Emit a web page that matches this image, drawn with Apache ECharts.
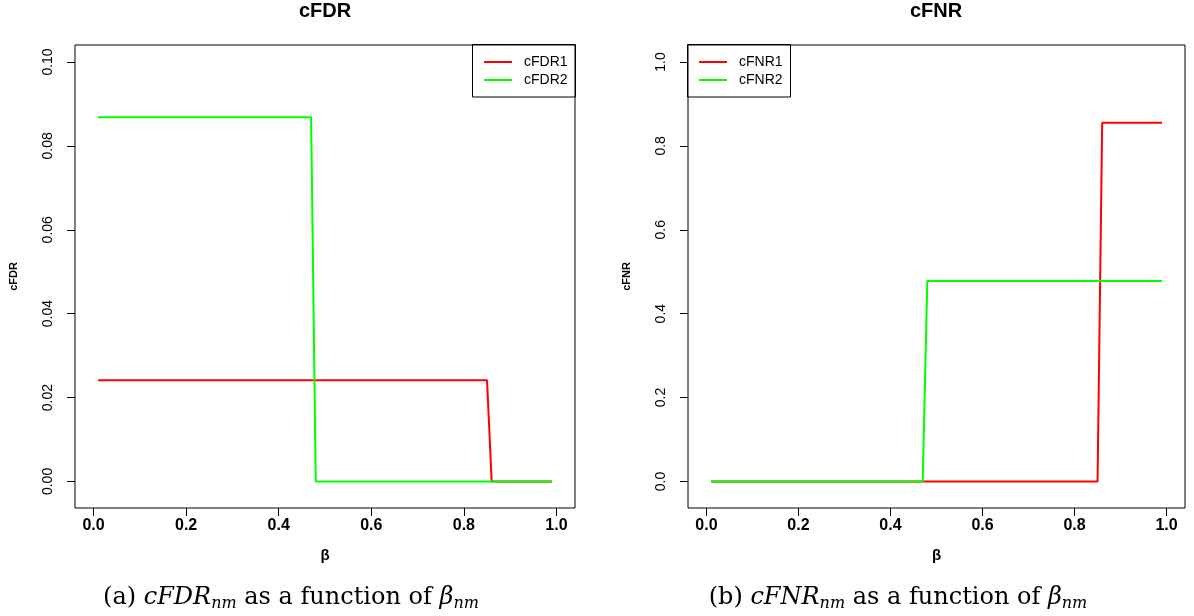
<!DOCTYPE html>
<html>
<head>
<meta charset="utf-8">
<script src="https://cdn.jsdelivr.net/npm/echarts@6/dist/echarts.min.js"></script>
<style>html,body{margin:0;padding:0;background:#fff}#c{width:1194px;height:616px}</style>
</head>
<body>
<div id="c"></div>
<script>
// ---- data ----
const xFDR1 = [0.01, 0.85, 0.86, 0.99];
const yFDR1 = [0.0241, 0.0241, 0, 0];
const xFDR2 = [0.01, 0.47, 0.48, 0.99];
const yFDR2 = [0.0868, 0.0868, 0, 0];
const xFNR1 = [0.01, 0.85, 0.86, 0.99];
const yFNR1 = [0, 0, 0.855, 0.855];
const xFNR2 = [0.01, 0.47, 0.48, 0.99];
const yFNR2 = [0, 0, 0.478, 0.478];
const xTicks = [0, 0.2, 0.4, 0.6, 0.8, 1.0];
const xTickLabels = ['0.0', '0.2', '0.4', '0.6', '0.8', '1.0'];
const yTicksFDR = [0, 0.02, 0.04, 0.06, 0.08, 0.10];
const yTickLabelsFDR = ['0.00', '0.02', '0.04', '0.06', '0.08', '0.10'];
const yTicksFNR = [0, 0.2, 0.4, 0.6, 0.8, 1.0];
const yTickLabelsFNR = ['0.0', '0.2', '0.4', '0.6', '0.8', '1.0'];
const seriesNames = ['cFDR1', 'cFDR2', 'cFNR1', 'cFNR2'];

const SANS = "'Liberation Sans', Arial, Helvetica, sans-serif";
const SERIF = "'DejaVu Serif', serif";
const RED = '#FF0000', GREEN = '#00FF00';

function pairs(xs, ys) { return xs.map((x, i) => [x, ys[i]]); }
function labelFor(ticks, labels) {
  return v => { const i = ticks.findIndex(t => Math.abs(t - v) < 1e-9); return i >= 0 ? labels[i] : ''; };
}

function xAxisDef(gi) {
  return {
    type: 'value', gridIndex: gi, min: -0.04, max: 1.04,
    name: 'β', nameLocation: 'middle', nameGap: 40,
    nameTextStyle: { fontFamily: SANS, fontWeight: 'bold', fontSize: 15, color: '#000' },
    axisLine: { show: false, onZero: false },
    splitLine: { show: false },
    axisTick: { show: true, length: 8, customValues: xTicks, lineStyle: { color: '#000', width: 1 } },
    axisLabel: { customValues: xTicks, formatter: labelFor(xTicks, xTickLabels), margin: 10,
      fontFamily: SANS, fontWeight: 'bold', fontSize: 16, color: '#000' }
  };
}
function yAxisDef(gi, name, min, max, ticks, labels) {
  return {
    type: 'value', gridIndex: gi, min: min, max: max,
    name: name, nameLocation: 'middle', nameGap: 56, nameRotate: 90,
    nameTextStyle: { fontFamily: SANS, fontWeight: 'bold', fontSize: 11, color: '#000' },
    axisLine: { show: false, onZero: false },
    splitLine: { show: false },
    axisTick: { show: true, length: 8, customValues: ticks, lineStyle: { color: '#000', width: 1 } },
    axisLabel: { customValues: ticks, formatter: labelFor(ticks, labels), rotate: 90, margin: 20,
      fontFamily: SANS, fontSize: 14, color: '#000' }
  };
}
function lineSeries(name, xi, data, color) {
  return {
    type: 'line', name: name, xAxisIndex: xi, yAxisIndex: xi, data: data,
    showSymbol: false, symbol: 'none', animation: false,
    lineStyle: { color: color, width: 2 }, itemStyle: { color: color }
  };
}
function legendDef(names, left) {
  return {
    data: names, orient: 'vertical', left: left, top: 55, padding: 0,
    icon: 'rect', itemWidth: 28, itemHeight: 2, itemGap: 4, selectedMode: false,
    textStyle: { fontFamily: SANS, fontSize: 14, color: '#000', padding: [0, 0, 0, 7] }
  };
}
function caption(x, letter, word) {
  return {
    type: 'text', z: 10,
    style: {
      x: x, y: 598, align: 'center', verticalAlign: 'middle',
      text: '(' + letter + ') {i|' + word + '}{s|nm} as a function of {i|β}{s|nm}',
      fontFamily: SERIF, fontSize: 24, lineHeight: 28, fill: '#000',
      rich: {
        i: { fontFamily: SERIF, fontStyle: 'italic', fontSize: 24, lineHeight: 28, fill: '#000' },
        s: { fontFamily: SERIF, fontStyle: 'italic', fontSize: 16, lineHeight: 12, verticalAlign: 'bottom', fill: '#000' }
      }
    }
  };
}
function plotTitle(x, text) {
  return {
    type: 'text', z: 10,
    style: { x: x, y: 11, align: 'center', verticalAlign: 'middle', text: text,
      fontFamily: SANS, fontWeight: 'bold', fontSize: 20, fill: '#000' }
  };
}
function legendBox(x) {
  return { type: 'rect', z: 1, shape: { x: x, y: 44.5, width: 103, height: 52.5 },
    style: { fill: 'none', stroke: '#000', lineWidth: 1 } };
}

const chart = echarts.init(document.getElementById('c'));
chart.setOption({
  backgroundColor: '#fff',
  animation: false,
  grid: [
    { left: 75, top: 45, width: 500, height: 463, show: true, borderColor: '#000', borderWidth: 1, backgroundColor: 'transparent' },
    { left: 688, top: 45, width: 497, height: 463, show: true, borderColor: '#000', borderWidth: 1, backgroundColor: 'transparent' }
  ],
  xAxis: [xAxisDef(0), xAxisDef(1)],
  yAxis: [
    yAxisDef(0, 'cFDR', -0.00633, 0.10405, yTicksFDR, yTickLabelsFDR),
    yAxisDef(1, 'cFNR', -0.0633, 1.0405, yTicksFNR, yTickLabelsFNR)
  ],
  legend: [legendDef([seriesNames[0], seriesNames[1]], 484), legendDef([seriesNames[2], seriesNames[3]], 699)],
  series: [
    lineSeries(seriesNames[0], 0, pairs(xFDR1, yFDR1), RED),
    lineSeries(seriesNames[1], 0, pairs(xFDR2, yFDR2), GREEN),
    lineSeries(seriesNames[2], 1, pairs(xFNR1, yFNR1), RED),
    lineSeries(seriesNames[3], 1, pairs(xFNR2, yFNR2), GREEN)
  ],
  graphic: [
    plotTitle(325, 'cFDR'), plotTitle(936, 'cFNR'),
    legendBox(472.5), legendBox(687.5),
    caption(291, 'a', 'cFDR'), caption(898, 'b', 'cFNR')
  ]
});
</script>
</body>
</html>
